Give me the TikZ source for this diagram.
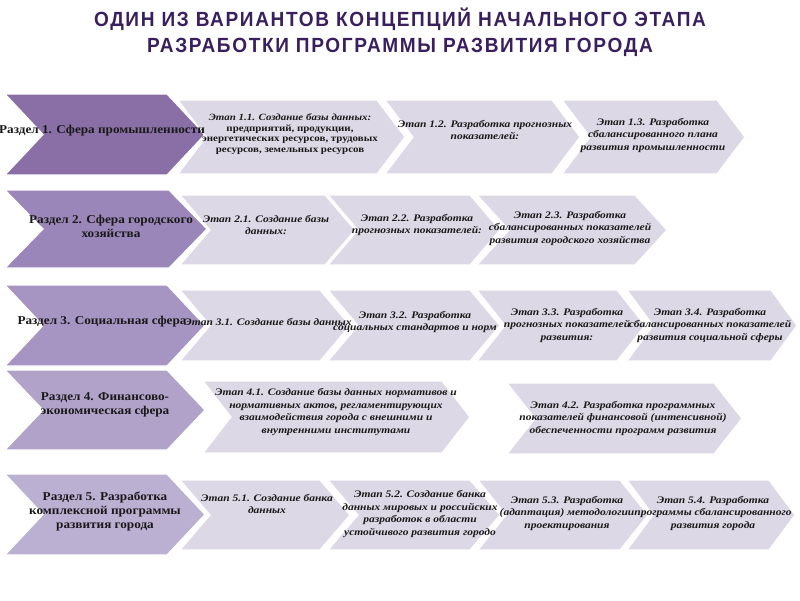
\documentclass[tikz,border=0pt]{standalone}
\usepackage{fontspec}
\setmainfont{Liberation Serif}
\newfontfamily\secfont[FakeStretch=1.1]{Liberation Serif}
\newfontfamily\stgfont[FakeStretch=1.15]{Liberation Serif}
\newfontfamily\ttlfont[LetterSpace=8,FakeStretch=0.93]{Liberation Sans}
\definecolor{secA}{HTML}{8A6FA7}
\definecolor{secB}{HTML}{9A86B8}
\definecolor{secC}{HTML}{A694C2}
\definecolor{secD}{HTML}{B1A2CA}
\definecolor{secE}{HTML}{BBAFD2}
\definecolor{stg}{HTML}{DDD8E5}
\definecolor{ttl}{HTML}{3A1F5E}
\newcommand\chevshape[6]{%
  \filldraw[fill=#1,draw=white,line width=1.2pt,line join=miter]
    (#2,#4) -- ({#3-#6},#4) -- (#3,{(#4+#5)/2}) -- ({#3-#6},#5) -- (#2,#5)
    -- ({#2+#6},{(#4+#5)/2}) -- cycle;}
\tikzset{
  sectxt/.style={font=\secfont\bfseries\fontsize{12}{14}\selectfont, align=center, inner sep=0pt, text=black!90},
  stgtxt/.style={font=\stgfont\bfseries\itshape\fontsize{10}{12.5}\selectfont, align=center, inner sep=0pt, text=black!90},
  ttltxt/.style={font=\ttlfont\bfseries\fontsize{20.5}{26}\selectfont, align=center, inner sep=0pt, text=ttl}
}
\begin{document}
\begin{tikzpicture}[x=1pt,y=-1pt]
\useasboundingbox (0,0) rectangle (800,600);
% title
\node[ttltxt] (title) at (400,32) {ОДИН ИЗ ВАРИАНТОВ КОНЦЕПЦИЙ НАЧАЛЬНОГО ЭТАПА\\РАЗРАБОТКИ ПРОГРАММЫ РАЗВИТИЯ ГОРОДА};
% row 1
\chevshape{secA}{5}{205}{94}{175}{38}
\chevshape{stg}{178}{405}{100}{174}{28}
\chevshape{stg}{385}{580}{100}{174}{28}
\chevshape{stg}{562}{745}{100}{174}{28}
\node[sectxt] (s1) at (102,131) {Раздел 1. Сфера промышленности};
\node[stgtxt,font=\stgfont\bfseries\fontsize{9.5}{10.5}\selectfont] (e11) at (290,134) {\itshape Этап 1.1. Создание базы данных:\\предприятий, продукции,\\энергетических ресурсов, трудовых\\ресурсов, земельных ресурсов};
\node[stgtxt] (e12) at (485,130) {Этап 1.2. Разработка прогнозных\\показателей:};
\node[stgtxt] (e13) at (653,135) {Этап 1.3. Разработка\\сбалансированного плана\\развития промышленности};
% row 2
\chevshape{secB}{5}{207}{190}{268}{38}
\chevshape{stg}{180}{355}{195}{265}{30}
\chevshape{stg}{328}{500}{195}{265}{30}
\chevshape{stg}{477}{667}{195}{265}{32}
\node[sectxt] (s2) at (111,226) {Раздел 2. Сфера городского\\хозяйства};
\node[stgtxt] (e21) at (266,225) {Этап 2.1. Создание базы\\данных:};
\node[stgtxt] (e22) at (417,225) {Этап 2.2. Разработка\\прогнозных показателей:};
\node[stgtxt] (e23) at (570,228) {Этап 2.3. Разработка\\сбалансированных показателей\\развития городского хозяйства};
% row 3
\chevshape{secC}{5}{205}{285}{366}{38}
\chevshape{stg}{180}{350}{290}{361}{30}
\chevshape{stg}{328}{500}{290}{361}{30}
\chevshape{stg}{477}{645}{290}{361}{28}
\chevshape{stg}{627}{797}{290}{361}{26}
\node[sectxt] (s3) at (102,322) {Раздел 3. Социальная сфера};
\node[stgtxt] (e31) at (268,322) {Этап 3.1. Создание базы данных};
\node[stgtxt] (e32) at (415,322) {Этап 3.2. Разработка\\социальных стандартов и норм};
\node[stgtxt] (e33) at (567,325) {Этап 3.3. Разработка\\прогнозных показателей\\развития:};
\node[stgtxt] (e34) at (710,325) {Этап 3.4. Разработка\\сбалансированных показателей\\развития социальной сферы};
% row 4
\chevshape{secD}{5}{205}{370}{450}{38}
\chevshape{stg}{203}{470}{381}{453}{28}
\chevshape{stg}{507}{742}{383}{454}{28}
\node[sectxt] (s4) at (105,405) {Раздел 4. Финансово-\\экономическая сфера};
\node[stgtxt] (e41) at (336,412) {Этап 4.1. Создание базы данных нормативов и\\нормативных актов, регламентирующих\\взаимодействия города с внешними и\\внутренними институтами};
\node[stgtxt] (e42) at (623,418) {Этап 4.2. Разработка программных\\показателей финансовой (интенсивной)\\обеспеченности программ развития};
% row 5
\chevshape{secE}{5}{205}{474}{555}{38}
\chevshape{stg}{180}{350}{480}{550}{30}
\chevshape{stg}{328}{500}{480}{550}{30}
\chevshape{stg}{478}{648}{480}{550}{28}
\chevshape{stg}{627}{795}{480}{550}{26}
\node[sectxt] (s5) at (105,511) {Раздел 5. Разработка\\комплексной программы\\развития города};
\node[stgtxt] (e51) at (267,504) {Этап 5.1. Создание банка\\данных};
\node[stgtxt] (e52) at (420,514) {Этап 5.2. Создание банка\\данных мировых и российских\\разработок в области\\устойчивого развития городо};
\node[stgtxt] (e53) at (567,513) {Этап 5.3. Разработка\\(адаптация) методологии\\проектирования};
\node[stgtxt] (e54) at (713,513) {Этап 5.4. Разработка\\программы сбалансированного\\развития города};
\end{tikzpicture}
\end{document}
